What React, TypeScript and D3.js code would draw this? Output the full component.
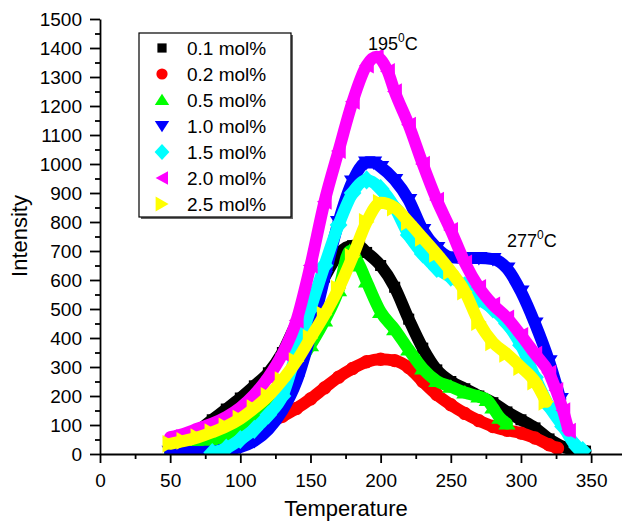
import React, { useEffect, useRef } from 'react';
import * as d3 from 'd3';

// series meta
const seriesNames = ['0.1 mol%', '0.2 mol%', '0.5 mol%', '1.0 mol%', '1.5 mol%', '2.0 mol%', '2.5 mol%'];
const seriesColors = ['#000000', '#ff0000', '#00ff00', '#0000ff', '#00ffff', '#ff00ff', '#ffff00'];
const seriesShapes = ['square', 'circle', 'triangleUp', 'triangleDown', 'diamond', 'triangleLeft', 'triangleRight'];

// values (temperature, intensity)
const temp01 = [50, 60, 70, 80, 90, 100, 110, 120, 130, 140, 150, 160, 170, 180, 185, 190, 200, 210, 220, 230, 240, 250, 260, 270, 280, 290, 300, 310, 320, 330, 340, 346];
const int01 = [25, 48, 80, 118, 155, 193, 235, 280, 350, 450, 530, 610, 690, 718, 715, 695, 650, 575, 465, 365, 290, 250, 225, 200, 177, 145, 118, 90, 52, 25, 13, 10];

const temp02 = [50, 60, 70, 80, 90, 100, 110, 120, 130, 140, 150, 160, 170, 180, 190, 200, 210, 220, 230, 240, 250, 260, 270, 280, 290, 300, 310, 320, 326];
const int02 = [30, 34, 40, 48, 58, 70, 88, 108, 130, 157, 190, 228, 265, 295, 318, 327, 322, 298, 250, 205, 170, 140, 115, 95, 82, 72, 55, 32, 20];

const temp05 = [50, 60, 70, 80, 90, 100, 110, 120, 130, 140, 150, 160, 170, 178, 185, 190, 200, 210, 220, 230, 240, 250, 260, 270, 276, 280, 285, 290];
const int05 = [5, 15, 30, 45, 60, 78, 110, 165, 235, 300, 375, 460, 565, 700, 650, 595, 490, 430, 360, 295, 252, 232, 212, 198, 186, 160, 125, 105];

const temp10 = [50, 60, 70, 80, 90, 100, 110, 120, 130, 140, 150, 160, 170, 180, 190, 195, 200, 210, 220, 230, 240, 250, 260, 270, 280, 290, 300, 310, 320, 328];
const int10 = [8, 6, 6, 8, 14, 24, 45, 85, 150, 250, 410, 610, 800, 940, 1005, 1005, 990, 945, 876, 772, 710, 678, 676, 676, 672, 640, 560, 450, 320, 190];

const temp15 = [80, 90, 100, 110, 120, 130, 140, 150, 160, 170, 180, 190, 200, 210, 220, 230, 240, 250, 260, 270, 280, 290, 300, 310, 320, 330, 340, 344];
const int15 = [5, 20, 50, 85, 135, 200, 350, 500, 650, 790, 900, 945, 915, 850, 755, 690, 640, 610, 580, 535, 500, 450, 375, 265, 165, 95, 24, 12];

const temp20 = [50, 60, 70, 80, 90, 100, 110, 120, 130, 140, 150, 160, 170, 180, 190, 197, 205, 210, 220, 230, 240, 250, 260, 270, 280, 290, 300, 310, 320, 325, 330, 334];
const int20 = [58, 70, 88, 105, 128, 160, 205, 265, 345, 460, 650, 870, 1045, 1215, 1340, 1370, 1320, 1250, 1135, 1000, 876, 772, 660, 575, 515, 470, 410, 345, 280, 220, 150, 80];

const temp25 = [50, 60, 70, 80, 90, 100, 110, 120, 130, 140, 150, 160, 170, 180, 190, 200, 210, 220, 230, 240, 250, 260, 270, 280, 290, 300, 310, 318];
const int25 = [35, 45, 58, 75, 95, 122, 158, 200, 255, 320, 400, 480, 570, 680, 800, 866, 850, 800, 745, 690, 630, 560, 455, 385, 345, 300, 250, 180];

const seriesTemps = [temp01, temp02, temp05, temp10, temp15, temp20, temp25];
const seriesValues = [int01, int02, int05, int10, int15, int20, int25];

const xTicks = [0, 50, 100, 150, 200, 250, 300, 350];
const xMinorTicks = [25, 75, 125, 175, 225, 275, 325];
const yTicks = [0, 100, 200, 300, 400, 500, 600, 700, 800, 900, 1000, 1100, 1200, 1300, 1400, 1500];
const yMinorTicks = [50, 150, 250, 350, 450, 550, 650, 750, 850, 950, 1050, 1150, 1250, 1350, 1450];

const peakNotes = [
  { t: 191, v: 1393, label: '195' },
  { t: 290, v: 714, label: '277' },
];

const FONT = "'Liberation Sans', Arial, Helvetica, sans-serif";

function markerPath(shape: string, k: number) {
  switch (shape) {
    case 'square': {
      const h = 4.6 * k;
      return `M${-h},${-h}H${h}V${h}H${-h}Z`;
    }
    case 'circle':
      return d3.symbol(d3.symbolCircle, Math.PI * (5.6 * k) ** 2)()!;
    case 'triangleUp':
      return `M0,${-6.2 * k}L${7.2 * k},${5 * k}L${-7.2 * k},${5 * k}Z`;
    case 'triangleDown':
      return `M0,${6.2 * k}L${7.2 * k},${-5 * k}L${-7.2 * k},${-5 * k}Z`;
    case 'diamond':
      return `M0,${-8 * k}L${7.4 * k},0L0,${8 * k}L${-7.4 * k},0Z`;
    case 'triangleLeft':
      return `M${-6.4 * k},0L${6 * k},${-6.8 * k}L${6 * k},${6.8 * k}Z`;
    case 'triangleRight':
      return `M${6.6 * k},0L${-6.4 * k},${-7.4 * k}L${-6.4 * k},${7.4 * k}Z`;
    default:
      return '';
  }
}

const App = () => {
  const svgRef = useRef<SVGSVGElement>(null);

  useEffect(() => {
    const svg = d3.select(svgRef.current);
    svg.selectAll('*').remove();

    const x = d3.scaleLinear().domain([0, 372]).range([100, 622]);
    const y = d3.scaleLinear().domain([0, 1500]).range([454, 19]);

    svg.append('defs').append('clipPath').attr('id', 'plot-clip')
      .append('rect').attr('x', 100).attr('y', 0).attr('width', 522).attr('height', 454);

    const plot = svg.append('g').attr('clip-path', 'url(#plot-clip)');

    const line = d3.line<[number, number]>()
      .x(d => x(d[0]))
      .y(d => y(d[1]))
      .curve(d3.curveMonotoneX);

    seriesNames.forEach((name, si) => {
      const pts: [number, number][] = seriesTemps[si].map((t, i) => [t, seriesValues[si][i]]);
      const g = plot.append('g');
      g.append('path')
        .attr('d', line(pts))
        .attr('fill', 'none')
        .attr('stroke', seriesColors[si])
        .attr('stroke-width', 12)
        .attr('stroke-linejoin', 'round')
        .attr('stroke-linecap', 'round');
      g.selectAll('path.mk')
        .data(pts)
        .join('path')
        .attr('class', 'mk')
        .attr('d', markerPath(seriesShapes[si], 1.2))
        .attr('transform', d => `translate(${x(d[0])},${y(d[1])})`)
        .attr('fill', seriesColors[si]);
    });

    // axes
    const styleAxis = (g: any, fontSize: number) => {
      g.selectAll('path,line').attr('stroke', '#000').attr('stroke-width', 1.8);
      g.selectAll('text').attr('font-family', FONT).attr('font-size', fontSize).attr('fill', '#000');
    };

    svg.append('g')
      .attr('transform', 'translate(0,454)')
      .call(d3.axisBottom(x).tickValues(xMinorTicks).tickSize(5).tickFormat(() => ''))
      .call(g => g.select('.domain').remove())
      .call(g => styleAxis(g, 19));

    svg.append('g')
      .attr('transform', 'translate(0,454)')
      .call(d3.axisBottom(x).tickValues(xTicks).tickSize(9).tickSizeOuter(0).tickPadding(11).tickFormat(d3.format('d')))
      .call(g => styleAxis(g, 19));

    svg.append('g')
      .attr('transform', 'translate(100,0)')
      .call(d3.axisLeft(y).tickValues(yMinorTicks).tickSize(5).tickFormat(() => ''))
      .call(g => g.select('.domain').remove())
      .call(g => styleAxis(g, 19));

    svg.append('g')
      .attr('transform', 'translate(100,0)')
      .call(d3.axisLeft(y).tickValues(yTicks).tickSize(10).tickSizeOuter(0).tickPadding(8).tickFormat(d3.format('d')))
      .call(g => styleAxis(g, 19));

    // axis titles
    svg.append('text')
      .attr('x', 346).attr('y', 516)
      .attr('text-anchor', 'middle')
      .attr('font-family', FONT).attr('font-size', 22)
      .text('Temperature');

    svg.append('text')
      .attr('transform', 'translate(27,236) rotate(-90)')
      .attr('text-anchor', 'middle')
      .attr('font-family', FONT).attr('font-size', 22)
      .text('Intensity');

    // peak notes
    peakNotes.forEach(n => {
      const t = svg.append('text')
        .attr('x', x(n.t)).attr('y', y(n.v))
        .attr('font-family', FONT).attr('font-size', 18);
      t.append('tspan').text(n.label);
      t.append('tspan').attr('dy', -8).attr('font-size', 12).text('0');
      t.append('tspan').attr('dy', 8).text('C');
    });

    // legend
    const lg = svg.append('g');
    lg.append('rect').attr('x', 141).attr('y', 35).attr('width', 152).attr('height', 184).attr('fill', '#666');
    lg.append('rect').attr('x', 139).attr('y', 33).attr('width', 152).attr('height', 184)
      .attr('fill', '#fff').attr('stroke', '#000').attr('stroke-width', 1.2);
    seriesNames.forEach((name, si) => {
      const cy = 48 + si * 26;
      lg.append('path')
        .attr('d', markerPath(seriesShapes[si], 1))
        .attr('transform', `translate(162,${cy})`)
        .attr('fill', seriesColors[si]);
      lg.append('text')
        .attr('x', 187).attr('y', cy + 7)
        .attr('font-family', FONT).attr('font-size', 19)
        .text(name);
    });
  }, []);

  return (
    <svg
      ref={svgRef}
      width={622}
      height={523}
      style={{ position: 'absolute', left: 0, top: 0, background: '#fff' }}
    />
  );
};

export default App;
